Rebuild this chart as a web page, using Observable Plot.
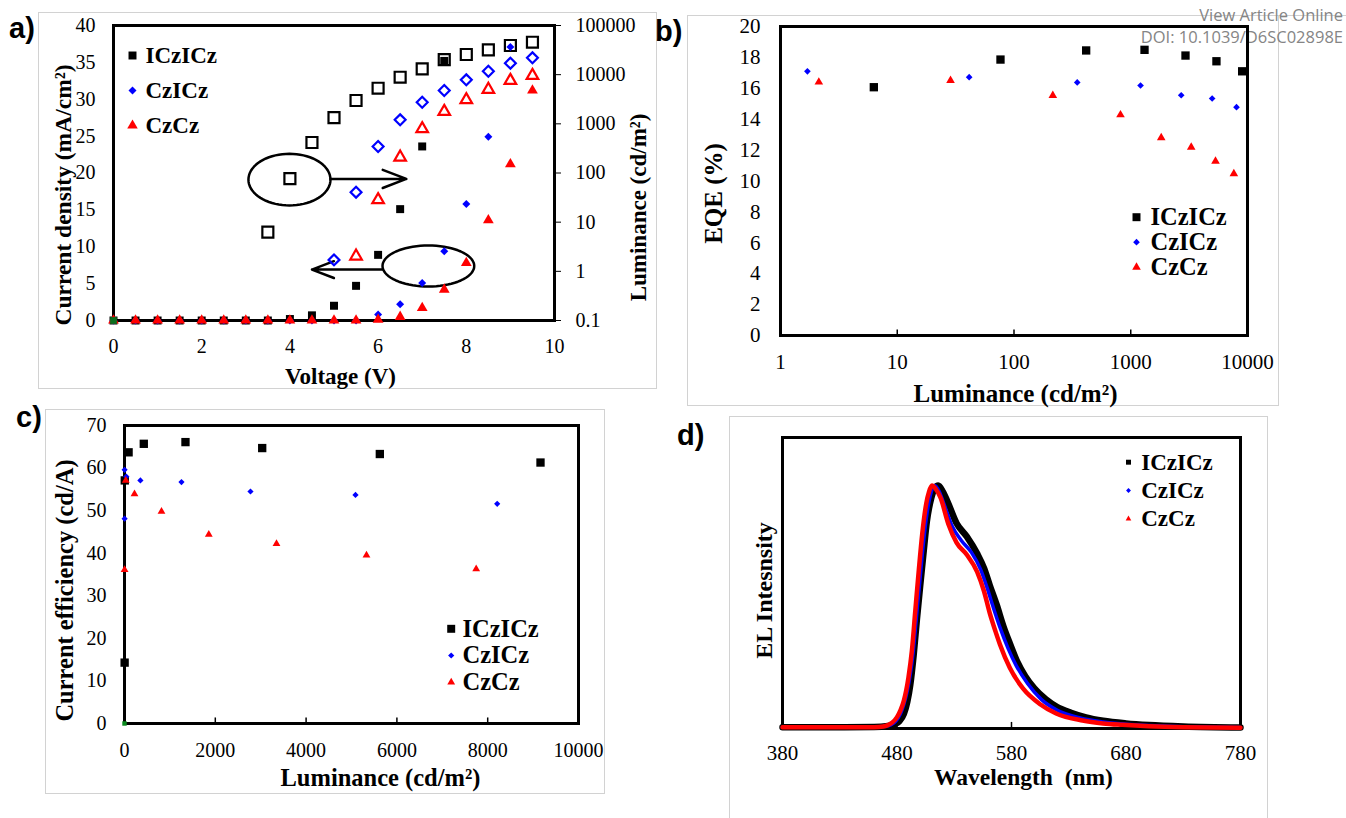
<!DOCTYPE html>
<html><head><meta charset="utf-8">
<script src="https://cdn.jsdelivr.net/npm/d3@7"></script>
<script src="https://cdn.jsdelivr.net/npm/@observablehq/plot@0.6"></script>
<style>
body{margin:0;background:#fff;}
#wrap{position:relative;width:1346px;height:818px;overflow:hidden;background:#fff;}
.panel{position:absolute;}
.box{position:absolute;border:1px solid #d2d2d2;box-sizing:border-box;}
.hline{position:absolute;height:0;border-top:1px solid #d2d2d2;}
.tag{position:absolute;font-family:"Liberation Sans",Arial,sans-serif;font-weight:bold;font-size:29px;line-height:1;}
.doi{position:absolute;right:3px;font-family:"Open Sans",sans-serif;font-size:16.5px;color:#858585;text-align:right;line-height:1;white-space:nowrap;}
svg text{white-space:pre;}
</style></head><body>
<div id="wrap">
  <div class="box" style="left:38px;top:12px;width:619px;height:377px;"></div>
  <div class="box" style="left:687px;top:15px;width:592px;height:391px;"></div>
  <div class="hline" style="left:1278px;top:15px;width:68px;"></div>
  <div class="box" style="left:45px;top:409px;width:560px;height:385px;"></div>
  <div class="box" style="left:729px;top:416px;width:539px;height:420px;"></div>
  <div class="doi" style="top:7px;">View Article Online</div>
  <div class="doi" style="top:29px;">DOI: 10.1039/D6SC02898E</div>
  <div class="panel" id="pa" style="left:0;top:0;"></div>
  <div class="panel" id="pb" style="left:680px;top:0;"></div>
  <div class="panel" id="pc" style="left:0;top:400px;"></div>
  <div class="panel" id="pd" style="left:680px;top:408px;"></div>
  <div class="tag" style="left:9px;top:14px;">a)</div>
  <div class="tag" style="left:655px;top:17px;">b)</div>
  <div class="tag" style="left:16px;top:403px;">c)</div>
  <div class="tag" style="left:677px;top:421px;">d)</div>
</div>
<script>
// ---------- series ----------
const seriesNames = ["ICzICz", "CzICz", "CzCz"];
const seriesColors = ["#000000", "#0000ff", "#ff0000"];
const seriesSymbols = ["square", "diamond2", "triangle"];

// ---------- panel a: J-V-L ----------
const voltage = [0,0.5,1,1.5,2,2.5,3,3.5,4,4.5,5,5.5,6,6.5,7,7.5,8,8.5,9,9.5];
const jICzICz = [0,0,0,0,0,0,0,0,0.2,0.7,2.0,4.7,8.9,15.1,23.6,35.2,null,null,null,null];
const jCzICz  = [0,0,0,0,0,0,0,0,0,0,0,0,0.8,2.2,5.1,9.4,15.8,24.9,37.1,null];
const jCzCz   = [0,0,0,0,0,0,0,0,0,0,0,0,0.1,0.5,1.7,4.2,7.8,13.6,21.2,31.2];
const lumVoltICzICz = [3.5,4,4.5,5,5.5,6,6.5,7,7.5,8,8.5,9,9.5];
const lumICzICz     = [6.25,77,417,1343,2980,5300,8870,13150,20300,25700,32000,39200,45700];
const lumVoltCzICz  = [5,5.5,6,6.5,7,7.5,8,8.5,9,9.5];
const lumCzICz      = [1.71,40.7,346,1208,2750,4760,7850,11750,17100,22000];
const lumVoltCzCz   = [5.5,6,6.5,7,7.5,8,8.5,9,9.5];
const lumCzCz       = [2.03,28.5,209,791,1780,3080,4990,7600,9600];
const originPoint = [{x: 0, y: 0}];
const xTicksA = [0,2,4,6,8,10];
const yTicksA = [0,5,10,15,20,25,30,35,40];
const lumTicks = [0.1,1,10,100,1000,10000,100000];
// annotations (data units)
const annotEllipses = [
  {id: "lum", cx: 3.99, cy: 19.1, rx: 0.93, ry: 3.5},
  {id: "cur", cx: 7.14, cy: 7.39, rx: 1.04, ry: 2.78}
];
const annotArrows = [
  {x1: 4.92, y1: 19.2, x2: 6.64, y2: 19.2},
  {x1: 6.1, y1: 6.9, x2: 4.5, y2: 6.9}
];

// ---------- panel b: EQE ----------
const eqeLumICzICz = [6.3,76.6,415,1312,2944,5420,9000];
const eqeICzICz    = [16.07,17.86,18.45,18.49,18.12,17.75,17.1];
const eqeLumCzICz  = [1.70,41.3,348,1213,2705,4980,8050];
const eqeCzICz     = [17.1,16.72,16.38,16.18,15.55,15.34,14.78];
const eqeLumCzCz   = [2.13,28.6,215,817,1824,3296,5320,7640];
const eqeCzCz      = [16.4,16.5,15.53,14.28,12.8,12.19,11.28,10.47];
const xTicksB = [1,10,100,1000,10000];
const yTicksB = [0,2,4,6,8,10,12,14,16,18,20];

// ---------- panel c: current efficiency ----------
const ceLumICzICz = [3,6,90,425,1343,3033,5624,9163];
const ceICzICz    = [14.3,57.1,63.7,65.7,66.1,64.7,63.3,61.3];
const ceLumCzICz  = [2,2,40,350,1255,2775,5088,8209];
const ceCzICz     = [48.1,59.6,58.0,57.1,56.7,54.5,53.7,51.6];
const ceLumCzCz   = [2,28,220,815,1857,3348,5330,7746];
const ceCzCz      = [36.1,57.1,53.9,49.8,44.4,42.2,39.5,36.3];
const xTicksC = [0,2000,4000,6000,8000,10000];
const yTicksC = [0,10,20,30,40,50,60,70];

// ---------- panel d: EL spectra ----------
const wlICzICz = [380,420,460,472,478,482,486,489,491.6,494.5,497.4,500.3,503.1,506,510,513,516,520,524,532,541,550,556,561,567,573,579,585,592,600,610,620,632,645,660,680,700,730,780];
const elICzICz = [0.005,0.005,0.006,0.01,0.018,0.03,0.06,0.11,0.18,0.30,0.45,0.59,0.72,0.85,0.95,0.99,1.0,0.975,0.935,0.845,0.79,0.72,0.66,0.59,0.51,0.42,0.345,0.275,0.215,0.165,0.12,0.088,0.065,0.046,0.032,0.021,0.014,0.008,0.004];
const wlCzICz = [380,420,460,470,475,479,483,486,489,491.5,494,497,500,503,506.5,510,513,517,521,528,536,545,553,559,564,570,577,584,594,606,620,640,660,680,710,780];
const elCzICz = [0.005,0.005,0.005,0.009,0.016,0.03,0.06,0.1,0.155,0.22,0.31,0.46,0.61,0.76,0.895,0.975,1.0,0.975,0.925,0.835,0.775,0.725,0.655,0.575,0.5,0.415,0.33,0.26,0.185,0.12,0.075,0.043,0.027,0.018,0.01,0.004];
const wlCzCz = [380,420,460,468,472,476,480,483,486,490,493,496,499,502,505.5,508,510.5,514,518,525,532,541,550,556,561,566,570,578.5,590,605,619,642,660,677,700,730,780];
const elCzCz = [0.005,0.005,0.005,0.008,0.014,0.025,0.047,0.075,0.115,0.21,0.32,0.486,0.65,0.80,0.925,0.975,1.0,0.985,0.95,0.84,0.765,0.715,0.645,0.565,0.475,0.4,0.345,0.25,0.165,0.10,0.062,0.033,0.021,0.015,0.009,0.005,0.003];
const xTicksD = [380,480,580,680,780];

// ---------- helpers ----------
const zip = (xs, ys, name) => xs.map((x, i) => ({x, y: ys[i], s: name})).filter(d => d.y != null);
const serif = "'Liberation Serif','Times New Roman',serif";
const baseStyle = "font-family: 'Liberation Serif','Times New Roman',serif; font-size: 20px; background: transparent; overflow: visible; color: black;";

function legendMarks(opts) {
  const marks = [];
  seriesNames.forEach((name, i) => {
    marks.push(Plot.dot([name], {frameAnchor: "top-left", dx: opts.mx, dy: opts.my + i * opts.step,
      symbol: seriesSymbols[i], r: opts.r[i], fill: seriesColors[i], stroke: "none"}));
    marks.push(Plot.text([name], {frameAnchor: "top-left", dx: opts.tx, dy: opts.my + i * opts.step,
      text: d => d, textAnchor: "start", lineAnchor: "middle", fontWeight: "bold",
      fontSize: opts.fs, fontFamily: serif, fill: "black"}));
  });
  return marks;
}
function title(t, anchor, dx, dy, fs, rotate) {
  return Plot.text([t], {frameAnchor: anchor, dx, dy, text: d => d, rotate: rotate || 0,
    textAnchor: "middle", lineAnchor: "middle", fontWeight: "bold", fontSize: fs, fontFamily: serif, fill: "black"});
}

// ---------- panel a ----------
{
  const lumToY = L => (Math.log10(L) + 1) / 6 * 40;
  const yToLum = y => Math.pow(10, y * 6 / 40 - 1);
  const jData = [zip(voltage, jICzICz, "ICzICz"), zip(voltage, jCzICz, "CzICz"), zip(voltage, jCzCz, "CzCz")];
  const lData = [
    zip(lumVoltICzICz, lumICzICz, "ICzICz"),
    zip(lumVoltCzICz, lumCzICz, "CzICz"),
    zip(lumVoltCzCz, lumCzCz, "CzCz")
  ].map(arr => arr.map(d => ({...d, y: lumToY(d.y)})));
  const ellPts = annotEllipses.flatMap(e => d3.range(0, 73).map(k => {
    const t = 2 * Math.PI * k / 72;
    return {id: e.id, x: e.cx + e.rx * Math.cos(t), y: e.cy + e.ry * Math.sin(t)};
  }));
  const rFill = [4.5, 3.6, 4.0];
  const rOpen = [6.2, 4.9, 4.3];
  const plot = Plot.plot({
    width: 680, height: 400,
    marginLeft: 113, marginRight: 126, marginTop: 25, marginBottom: 80,
    x: {domain: [0, 10], axis: null}, y: {domain: [0, 40], axis: null},
    style: baseStyle,
    marks: [
      Plot.frame({stroke: "black", strokeWidth: 3}),
      Plot.axisX(xTicksA, {tickSize: 0, tickPadding: 18, label: null, fontSize: 20, fontFamily: serif}),
      Plot.axisY(yTicksA, {tickSize: 0, tickPadding: 18, label: null, fontSize: 20, fontFamily: serif}),
      Plot.axisY(lumTicks.map(lumToY), {anchor: "right", tickSize: 6, tickPadding: 15, label: null, fontSize: 20, fontFamily: serif,
        tickFormat: y => { const v = yToLum(y); return v < 1 ? "0.1" : String(Math.round(v)); }}),
      Plot.line(ellPts, {x: "x", y: "y", z: "id", stroke: "black", strokeWidth: 2.5}),
      Plot.arrow(annotArrows, {x1: "x1", y1: "y1", x2: "x2", y2: "y2", stroke: "black", strokeWidth: 2.5, headLength: 17, headAngle: 42}),
      ...lData.map((d, i) => Plot.dot(d, {x: "x", y: "y", symbol: seriesSymbols[i], r: rOpen[i], fill: "none", stroke: seriesColors[i], strokeWidth: 2.2})),
      ...jData.map((d, i) => Plot.dot(d, {x: "x", y: "y", symbol: seriesSymbols[i], r: rFill[i], fill: seriesColors[i], stroke: "none"})),
      Plot.dot(originPoint, {x: "x", y: "y", symbol: "square", r: 3.8, fill: "#0a6e1e"}),
      ...legendMarks({mx: 19, my: 30, step: 35, tx: 32, fs: 23, r: [4.5, 3.6, 3.9]}),
      title("Voltage (V)", "bottom", 6.5, 56, 23),
      title("Current density (mA/cm²)", "left", -50, 22, 23.5, -90),
      title("Luminance (cd/m²)", "right", 84, 34.5, 23, -90)
    ]
  });
  document.getElementById("pa").appendChild(plot);
}

// ---------- panel b ----------
{
  const data = [zip(eqeLumICzICz, eqeICzICz, "ICzICz"), zip(eqeLumCzICz, eqeCzICz, "CzICz"), zip(eqeLumCzCz, eqeCzCz, "CzCz")];
  const r = [4.7, 3.0, 3.2];
  const plot = Plot.plot({
    width: 666, height: 410,
    marginLeft: 100, marginRight: 99, marginTop: 26, marginBottom: 75,
    x: {type: "log", domain: [1, 10000], axis: null}, y: {domain: [0, 20], axis: null},
    style: baseStyle,
    marks: [
      Plot.frame({stroke: "black", strokeWidth: 3}),
      Plot.axisX(xTicksB, {tickSize: 0, tickPadding: 19, label: null, fontSize: 21, fontFamily: serif, tickFormat: d => String(d)}),
      Plot.axisY(yTicksB, {tickSize: 0, tickPadding: 20, label: null, fontSize: 21, fontFamily: serif}),
      Plot.ruleX(xTicksB.slice(1, -1), {y1: 0, y2: 0.35, stroke: "black", strokeWidth: 1.5}),
      ...data.map((d, i) => Plot.dot(d, {x: "x", y: "y", symbol: seriesSymbols[i], r: r[i], fill: seriesColors[i], stroke: "none"})),
      ...legendMarks({mx: 356, my: 190.7, step: 25, tx: 370, fs: 24.5, r: [4.5, 3.0, 3.2]}),
      title("Luminance (cd/m²)", "bottom", 1.5, 58, 25),
      title("EQE (%)", "left", -67, 12.5, 25, -90)
    ]
  });
  document.getElementById("pb").appendChild(plot);
}

// ---------- panel c ----------
{
  const data = [zip(ceLumICzICz, ceICzICz, "ICzICz"), zip(ceLumCzICz, ceCzICz, "CzICz"), zip(ceLumCzCz, ceCzCz, "CzCz")];
  const r = [4.7, 2.8, 2.9];
  const plot = Plot.plot({
    width: 680, height: 418,
    marginLeft: 124, marginRight: 102, marginTop: 25, marginBottom: 95,
    x: {domain: [0, 10000], axis: null}, y: {domain: [0, 70], axis: null},
    style: baseStyle,
    marks: [
      Plot.frame({stroke: "black", strokeWidth: 3}),
      Plot.axisX(xTicksC, {tickSize: 0, tickPadding: 19, label: null, fontSize: 20, fontFamily: serif, tickFormat: d => String(d)}),
      Plot.axisY(yTicksC, {tickSize: 0, tickPadding: 18, label: null, fontSize: 20, fontFamily: serif}),
      Plot.ruleX(xTicksC.slice(1, -1), {y1: 0, y2: 1.3, stroke: "black", strokeWidth: 1.5}),
      ...data.map((d, i) => Plot.dot(d, {x: "x", y: "y", symbol: seriesSymbols[i], r: r[i], fill: seriesColors[i], stroke: "none"})),
      Plot.dot(originPoint, {x: "x", y: "y", symbol: "square", r: 2.5, fill: "#0a8a1e"}),
      ...legendMarks({mx: 326.7, my: 203.3, step: 26.7, tx: 338, fs: 24.5, r: [4.5, 2.8, 2.9]}),
      title("Luminance (cd/m²)", "bottom", 29, 55, 24.5),
      title("Current efficiency (cd/A)", "left", -59, 16, 24.5, -90)
    ]
  });
  document.getElementById("pc").appendChild(plot);
}

// ---------- panel d ----------
{
  const data = [zip(wlICzICz, elICzICz, "ICzICz"), zip(wlCzICz, elCzICz, "CzICz"), zip(wlCzCz, elCzCz, "CzCz")];
  const widths = [6.5, 3.5, 4.5];
  const plot = Plot.plot({
    width: 666, height: 410,
    marginLeft: 102, marginRight: 106, marginTop: 29, marginBottom: 90,
    x: {domain: [380, 780], axis: null}, y: {domain: [0, 1.198], axis: null},
    style: baseStyle,
    marks: [
      Plot.frame({stroke: "black", strokeWidth: 3}),
      Plot.axisX(xTicksD, {tickSize: 0, tickPadding: 17, label: null, fontSize: 21, fontFamily: serif}),
      Plot.ruleX(xTicksD.slice(1, -1), {y1: 0, y2: 0.025, stroke: "black", strokeWidth: 1.5}),
      ...data.map((d, i) => Plot.line(d, {x: "x", y: "y", stroke: seriesColors[i], strokeWidth: widths[i], curve: "monotone-x"})),
      ...legendMarks({mx: 346, my: 24.7, step: 28.3, tx: 358.7, fs: 23, r: [2.8, 2.2, 2.1]}),
      title("Wavelength  (nm)", "bottom", 12, 48.7, 23.5),
      title("EL Intesnsity", "left", -18.5, 7.5, 24, -90)
    ]
  });
  document.getElementById("pd").appendChild(plot);
}
</script>
</body></html>
